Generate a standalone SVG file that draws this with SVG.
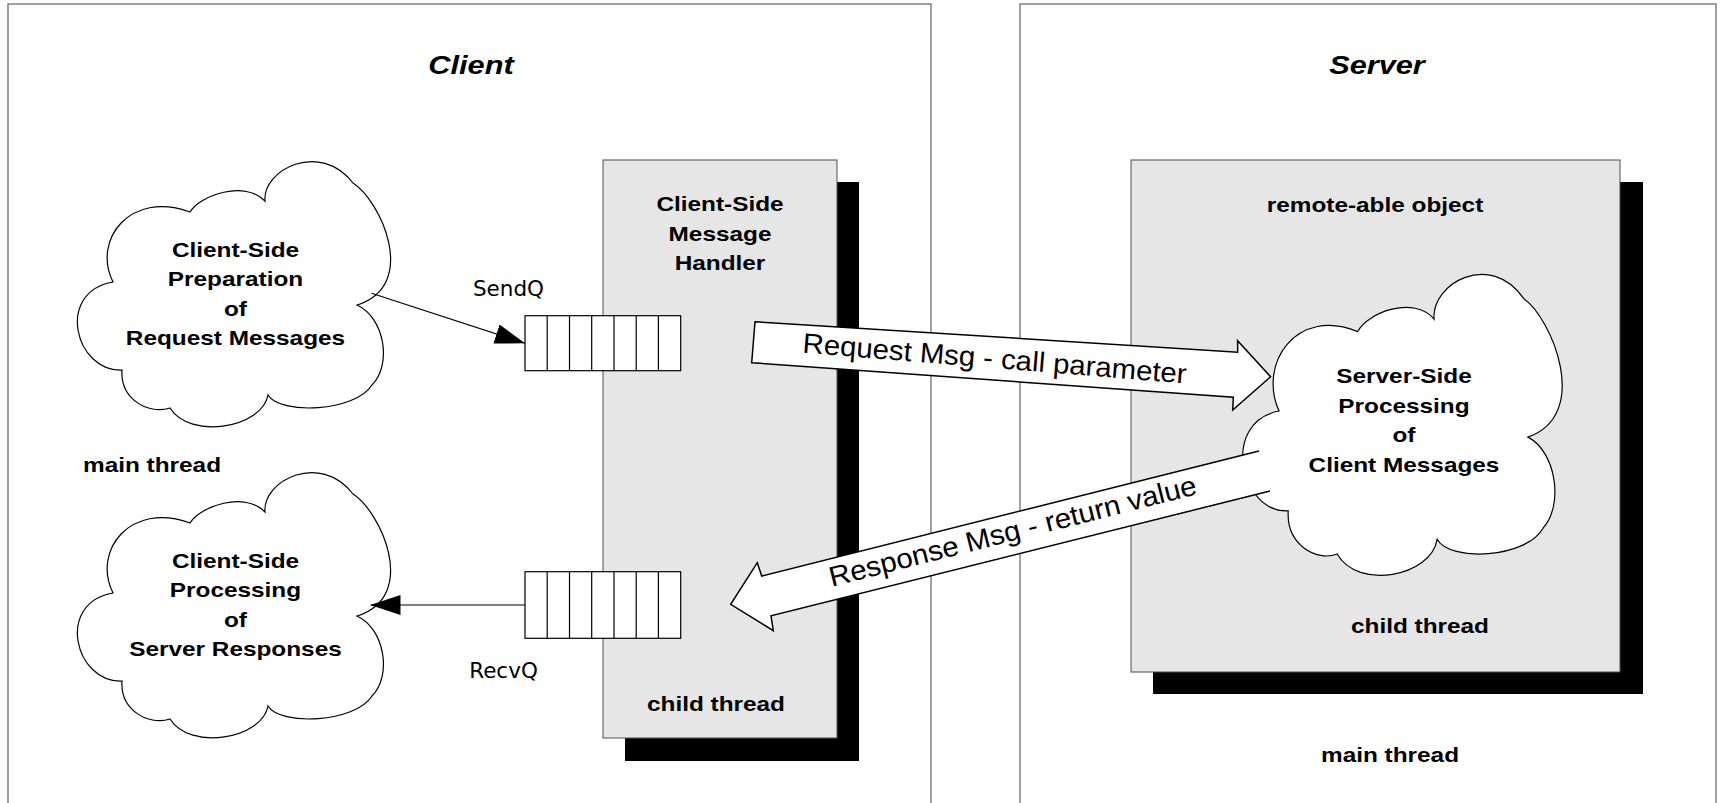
<svg xmlns="http://www.w3.org/2000/svg" xmlns:xlink="http://www.w3.org/1999/xlink" width="1736" height="803" viewBox="0 0 1736 803">
  <style>
    .frame{fill:none;stroke:#6f6f6f;stroke-width:1.3}
    .panel{fill:#e6e6e6;stroke:#505050;stroke-width:1}
    .shadow{fill:#000}
    .cloud{fill:#fff;stroke:#000;stroke-width:1.2;vector-effect:non-scaling-stroke}
    .q{fill:#fff;stroke:#000;stroke-width:1.2}
    .qd{stroke:#000;stroke-width:1.2}
    .lbl{font-family:"Liberation Sans",Arial,sans-serif;font-weight:bold;font-size:21px;text-anchor:middle;fill:#000}
    .title{font-family:"Liberation Sans",Arial,sans-serif;font-weight:bold;font-style:italic;font-size:26.5px;text-anchor:middle;fill:#000}
    .qlbl{font-family:"DejaVu Sans",Verdana,sans-serif;font-size:21.5px;text-anchor:middle;fill:#000}
    .flow{fill:#fff;stroke:#000;stroke-width:1.5;stroke-linejoin:miter}
    .flowtxt{font-family:"Liberation Sans",Arial,sans-serif;font-size:28px;text-anchor:middle;fill:#000}
    .link{stroke:#000;stroke-width:1.2;fill:none}
  </style>
  <defs>
    <marker id="tri" viewBox="0 0 30 20" refX="30" refY="10" markerWidth="30" markerHeight="20" markerUnits="userSpaceOnUse" orient="auto">
      <path d="M0,0 L30,10 L0,20 Z" fill="#000"/>
    </marker>
    <path id="cloudShape" class="cloud" d="M113,282 C92,240 130,190 190,212 C200,195 245,180 265,201 C262,170 320,140 353,183 C380,200 420,285 357,305 C385,318 392,365 372,385 C355,412 280,415 268,395 C262,428 190,440 170,408 C150,415 120,400 122,370 C75,372 55,292 113,282 Z"/>
  </defs>

  <rect width="1736" height="803" fill="#fff"/>

  <!-- process frames; bold labels are widened 1.16x around their centre -->
  <g id="client-frame">
    <rect class="frame" x="8" y="4" width="923" height="830"/>
    <text class="title" x="471" y="74" transform="matrix(1.16 0 0 1 -75.36 0)">Client</text>
    <text class="lbl" x="152" y="472.5" transform="matrix(1.16 0 0 1 -24.32 0)">main thread</text>
  </g>
  <g id="server-frame">
    <rect class="frame" x="1020" y="4" width="696" height="830"/>
    <text class="title" x="1377" y="74" transform="matrix(1.16 0 0 1 -220.32 0)">Server</text>
    <text class="lbl" x="1390" y="762" transform="matrix(1.16 0 0 1 -222.4 0)">main thread</text>
  </g>

  <!-- client-side message handler (child thread) -->
  <g id="message-handler">
    <rect class="shadow" x="625" y="182" width="234" height="579"/>
    <rect class="panel" x="603" y="160" width="234" height="578"/>
    <g transform="matrix(1.16 0 0 1 -115.2 0)">
      <text class="lbl" x="720" y="211">Client-Side</text>
      <text class="lbl" x="720" y="241">Message</text>
      <text class="lbl" x="720" y="270">Handler</text>
    </g>
    <text class="lbl" x="716" y="711.5" transform="matrix(1.16 0 0 1 -114.56 0)">child thread</text>
  </g>

  <!-- server-side remote-able object (child thread) -->
  <g id="remote-object">
    <rect class="shadow" x="1153" y="182" width="490" height="512"/>
    <rect class="panel" x="1131" y="160" width="489" height="512"/>
    <text class="lbl" x="1375" y="212" transform="matrix(1.16 0 0 1 -220 0)">remote-able object</text>
    <text class="lbl" x="1420" y="633" transform="matrix(1.16 0 0 1 -227.2 0)">child thread</text>
  </g>

  <!-- queues -->
  <g id="send-queue">
    <rect class="q" x="525" y="315.7" width="155.7" height="55"/>
    <path class="qd" d="M547.2,315.7V370.7M569.5,315.7V370.7M591.7,315.7V370.7M614,315.7V370.7M636.2,315.7V370.7M658.4,315.7V370.7"/>
    <text class="qlbl" x="508.5" y="296">SendQ</text>
  </g>
  <g id="recv-queue">
    <rect class="q" x="525" y="571.7" width="155.7" height="66.6"/>
    <path class="qd" d="M547.2,571.7V638.3M569.5,571.7V638.3M591.7,571.7V638.3M614,571.7V638.3M636.2,571.7V638.3M658.4,571.7V638.3"/>
    <text class="qlbl" x="503.5" y="678">RecvQ</text>
  </g>

  <!-- clouds -->
  <g id="request-preparation">
    <use xlink:href="#cloudShape" href="#cloudShape"/>
    <g transform="matrix(1.16 0 0 1 -37.68 0)">
      <text class="lbl" x="235.5" y="257">Client-Side</text>
      <text class="lbl" x="235.5" y="286.5">Preparation</text>
      <text class="lbl" x="235.5" y="316">of</text>
      <text class="lbl" x="235.5" y="345.5">Request Messages</text>
    </g>
  </g>
  <g id="response-processing">
    <use xlink:href="#cloudShape" href="#cloudShape" transform="translate(0,311)"/>
    <g transform="matrix(1.16 0 0 1 -37.68 0)">
      <text class="lbl" x="235.5" y="568">Client-Side</text>
      <text class="lbl" x="235.5" y="597.5">Processing</text>
      <text class="lbl" x="235.5" y="627">of</text>
      <text class="lbl" x="235.5" y="656.5">Server Responses</text>
    </g>
  </g>
  <g id="server-processing">
    <use xlink:href="#cloudShape" href="#cloudShape" transform="translate(1404,383) scale(1.02,1.135) translate(-235.5,-257.3)"/>
    <g transform="matrix(1.16 0 0 1 -224.64 0)">
      <text class="lbl" x="1404" y="383">Server-Side</text>
      <text class="lbl" x="1404" y="413">Processing</text>
      <text class="lbl" x="1404" y="442.5">of</text>
      <text class="lbl" x="1404" y="472">Client Messages</text>
    </g>
  </g>

  <!-- connectors -->
  <g id="connectors">
    <line class="link" x1="371.5" y1="293.3" x2="525" y2="343.3" marker-end="url(#tri)"/>
    <line class="link" x1="525" y1="605" x2="370.5" y2="605" marker-end="url(#tri)"/>
    <g id="request-flow">
      <path class="flow" d="M755,321.7 L1237.7,352.3 L1237.6,340.7 L1270.6,376.7 L1232.7,410 L1233.3,397.3 L751.7,362.7 Z"/>
      <text class="flowtxt" x="994" y="368" transform="rotate(4.6 994 368)" textLength="385" lengthAdjust="spacingAndGlyphs">Request Msg - call parameter</text>
    </g>
    <g id="response-flow">
      <path class="flow" d="M1259,451 L761.7,576 L757.3,562.7 L730.7,604.3 L773.3,630.7 L771,615.7 L1270,491"/>
      <text class="flowtxt" x="1015" y="540.3" transform="rotate(-14.2 1015 540.3)" textLength="378" lengthAdjust="spacingAndGlyphs">Response Msg - return value</text>
    </g>
  </g>
</svg>
